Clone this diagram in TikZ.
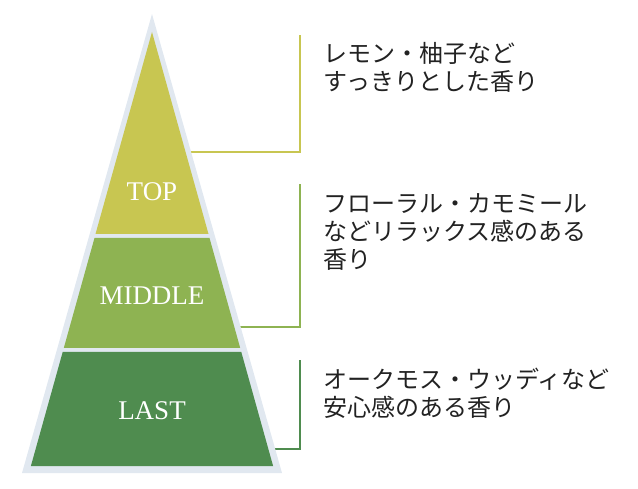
\documentclass[tikz,border=0pt]{standalone}
\usepackage{fontspec}
\newfontfamily\jpfont{Noto Sans CJK JP}
\newfontfamily\layerfont{Liberation Serif}
\definecolor{topc}{HTML}{C8C651}
\definecolor{midc}{HTML}{8EB352}
\definecolor{lastc}{HTML}{4F8C4F}
\definecolor{rim}{HTML}{E1E8F0}
\definecolor{ink}{HTML}{222222}
\tikzset{
  layer/.style={font=\layerfont\fontsize{27}{30}\selectfont, text=white, inner sep=0pt},
  note/.style={font=\jpfont\fontsize{24}{28}\selectfont, text=ink, align=left, anchor=north west, inner sep=0pt},
  lead/.style={line width=2.5pt},
}
\begin{document}
\begin{tikzpicture}[x=1pt,y=-1pt]
  \useasboundingbox (0,0) rectangle (638,489);
  \coordinate (topa) at (186,152);
  \coordinate (topb) at (300,35);
  \coordinate (mida) at (236,327);
  \coordinate (midb) at (300,184);
  \coordinate (lasta) at (270,449);
  \coordinate (lastb) at (300,360);
  \draw[lead,topc] (topa) -| (topb);
  \draw[lead,midc] (mida) -| (midb);
  \draw[lead,lastc] (lasta) -| (lastb);
  \fill[rim] (152,14) -- (282,473) -- (22,473) -- cycle;
  \fill[topc] (152,32) -- (208.5,234) -- (95.5,234) -- cycle;
  \fill[midc] (94.5,238) -- (209.5,238) -- (240.2,348) -- (63.8,348) -- cycle;
  \fill[lastc] (62.7,352) -- (241.3,352) -- (273.1,466) -- (30.9,466) -- cycle;
  \node[layer] (top) at (152,192) {TOP};
  \node[layer] (middle) at (152,295.5) {MIDDLE};
  \node[layer] (last) at (152,411) {LAST};
  \node[note] (topnote) at (323,42) {レモン・柚子など\\すっきりとした香り};
  \node[note] (midnote) at (323,193) {フローラル・カモミール\\などリラックス感のある\\香り};
  \node[note] (lastnote) at (323,368) {オークモス・ウッディなど\\安心感のある香り};
\end{tikzpicture}
\end{document}
